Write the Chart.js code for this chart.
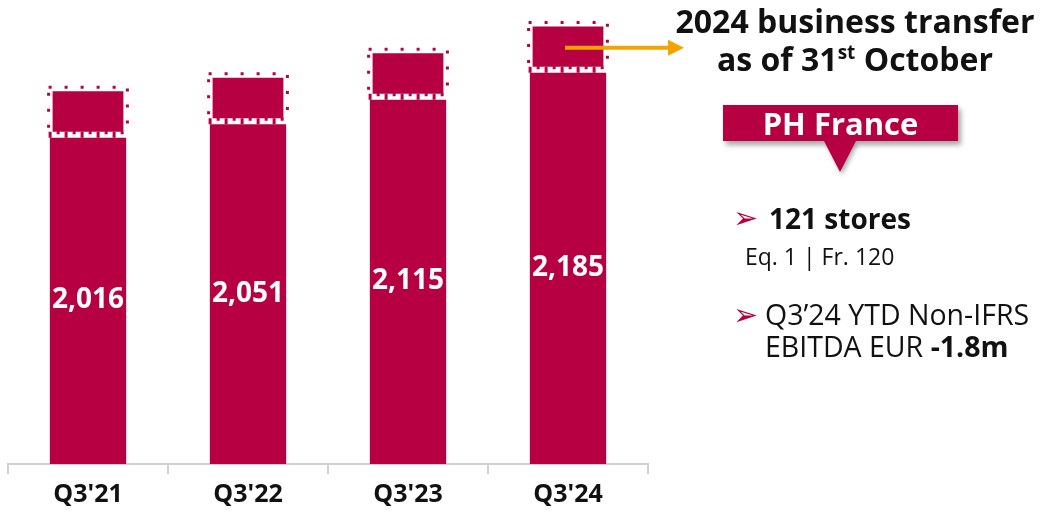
<!DOCTYPE html>
<html>
<head>
<meta charset="utf-8">
<script src="https://cdn.jsdelivr.net/npm/chart.js@4.4.1/dist/chart.umd.min.js"></script>
<style>
  body { margin: 0; background: #fff; font-family: 'Open Sans', sans-serif; }
  #wrap { position: relative; width: 1041px; height: 516px; overflow: hidden; }
  #chart { position: absolute; left: 0; top: 0; }
  .t { position: absolute; white-space: nowrap; color: #111; }
  .title { left: 660px; top: 2px; width: 390px; text-align: center; font-size: 32px; font-weight: 700; line-height: 38px; }
  .title sup { font-size: 19px; vertical-align: 0; position: relative; top: -12px; }
  .tag { position: absolute; left: 723px; top: 105px; width: 235px; height: 36px; background: #b60042;
         color: #fff; font-size: 31px; font-weight: 700; line-height: 36px; text-align: center;
         box-shadow: 3px 4px 5px rgba(0,0,0,0.35); }
  .tip { position: absolute; left: 824px; top: 141px; width: 0; height: 0;
         border-left: 16px solid transparent; border-right: 16px solid transparent; border-top: 31px solid #b60042;
         filter: drop-shadow(2px 3px 2px rgba(0,0,0,0.3)); }
  .bul { position: absolute; color: #b60042; font-family: 'DejaVu Sans', sans-serif; font-size: 30px; line-height: 30px; }
</style>
</head>
<body>
<div id="wrap">
  <canvas id="chart" width="1041" height="516"></canvas>
  <div class="t title">2024 business transfer<br>as of 31<sup>st</sup> October</div>
  <div class="tag">PH France</div>
  <div class="tip"></div>
  <span class="bul" style="left:733px;top:203px;">➢</span>
  <div class="t" style="left:769px;top:199px;font-size:28px;font-weight:700;line-height:38px;">121 stores</div>
  <div class="t" style="left:745px;top:240px;font-size:23px;">Eq. 1 | Fr. 120</div>
  <span class="bul" style="left:733px;top:300px;">➢</span>
  <div class="t" style="left:765px;top:298px;font-size:28.5px;line-height:32px;">Q3’24 YTD Non-IFRS<br>EBITDA EUR <b>-1.8m</b></div>
</div>
<script>
// ── Datos ───────────────────────────────────────────────
const trimestres = ["Q3'21", "Q3'22", "Q3'23", "Q3'24"];
const tiendas = [2016, 2051, 2115, 2185];
const transferencia = [121, 121, 121, 121];
const ejeMin = 1158;
const ejeMax = 2341;

const CARMESI = '#b60042';
const NARANJA = '#f5a300';

// Contornos discontinuos, etiquetas de valor y flecha
const decoracion = {
  id: 'decoracion',
  afterDatasetsDraw(chart) {
    const ctx = chart.ctx;
    const escalaY = chart.scales.y;
    const arriba = chart.getDatasetMeta(1).data;
    const abajo = chart.getDatasetMeta(0).data;
    ctx.save();

    arriba.forEach(b => {
      const p = b.getProps(['x', 'y', 'base', 'width'], true);
      const l = p.x - p.width / 2;
      ctx.strokeStyle = CARMESI;
      ctx.setLineDash([3, 13]);
      ctx.lineWidth = 3;
      ctx.strokeRect(l - 1, p.y - 1, p.width + 2, p.base - p.y - 1);
      ctx.lineWidth = 6;
      ctx.beginPath();
      ctx.moveTo(l - 1, p.base);
      ctx.lineTo(l + p.width + 1, p.base);
      ctx.stroke();
    });
    ctx.setLineDash([]);

    // etiquetas de valor centradas en la barra principal
    ctx.fillStyle = '#fff';
    ctx.font = 'bold 28px "Open Sans", sans-serif';
    ctx.textAlign = 'center';
    ctx.textBaseline = 'middle';
    const fondo = escalaY.getPixelForValue(ejeMin);
    abajo.forEach((b, i) => {
      const cima = escalaY.getPixelForValue(tiendas[i]);
      ctx.fillText(tiendas[i].toLocaleString('en-US'), b.x, (cima + fondo) / 2 + 1);
    });

    // flecha naranja
    const ult = arriba[arriba.length - 1].getProps(['x', 'y', 'base'], true);
    const sy = (ult.y + ult.base) / 2 + 1;
    const sx = ult.x - 3;
    const ex = chart.chartArea.right + 36;
    ctx.strokeStyle = NARANJA;
    ctx.fillStyle = NARANJA;
    ctx.lineWidth = 4;
    ctx.beginPath();
    ctx.moveTo(sx, sy);
    ctx.lineTo(ex - 14, sy);
    ctx.stroke();
    ctx.beginPath();
    ctx.moveTo(ex, sy);
    ctx.lineTo(ex - 16, sy - 8);
    ctx.lineTo(ex - 16, sy + 8);
    ctx.closePath();
    ctx.fill();
    ctx.restore();
  }
};

new Chart(document.getElementById('chart'), {
  type: 'bar',
  data: {
    labels: trimestres,
    datasets: [
      {
        label: 'Tiendas',
        data: tiendas,
        backgroundColor: CARMESI,
        borderColor: '#fff',
        borderWidth: { top: 3, left: 0, right: 0, bottom: 0 },
        borderSkipped: false,
        categoryPercentage: 1,
        barPercentage: 0.48,
      },
      {
        label: 'PH France',
        data: transferencia,
        backgroundColor: CARMESI,
        borderColor: '#fff',
        borderWidth: 3,
        borderSkipped: false,
        categoryPercentage: 1,
        barPercentage: 0.48,
      },
    ],
  },
  options: {
    responsive: false,
    animation: false,
    layout: { padding: { left: 8, right: 393, top: 10, bottom: 0 } },
    plugins: { legend: { display: false }, tooltip: { enabled: false } },
    scales: {
      x: {
        stacked: true,
        offset: true,
        grid: { offset: true, drawOnChartArea: false, drawTicks: true, tickLength: 10, color: '#d0d0d0', lineWidth: 2 },
        border: { display: true, color: '#d0d0d0', width: 2 },
        ticks: { color: '#111', padding: 6, font: { family: 'Open Sans', size: 25, weight: 'bold' } },
      },
      y: { stacked: true, display: false, min: ejeMin, max: ejeMax },
    },
  },
  plugins: [decoracion],
});
</script>
</body>
</html>
